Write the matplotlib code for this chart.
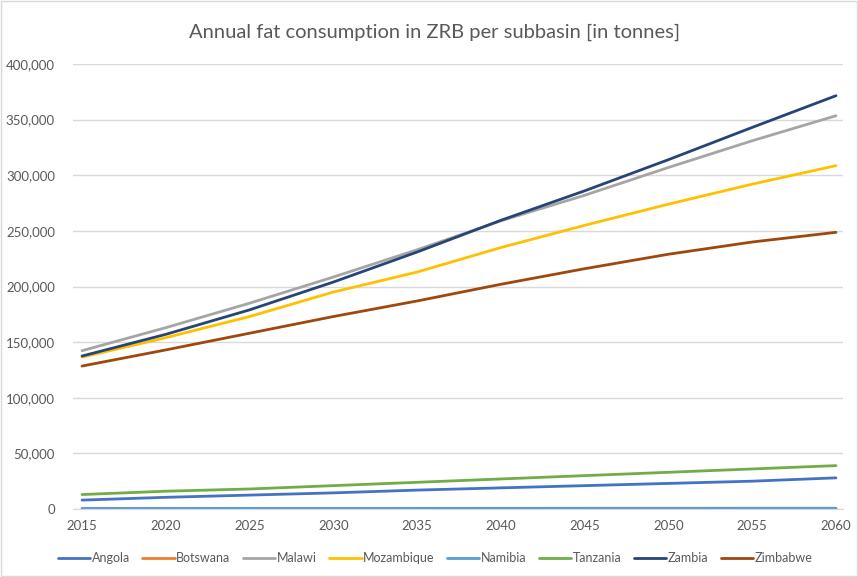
import matplotlib
matplotlib.use("Agg")
import matplotlib.pyplot as plt
from matplotlib.ticker import FuncFormatter, MultipleLocator
from matplotlib.patches import Rectangle

years = [2015, 2020, 2025, 2030, 2035, 2040, 2045, 2050, 2055, 2060]

angola     = [8000, 10500, 12500, 14500, 17000, 19000, 21000, 23000, 25000, 28000]
botswana   = [200, 220, 240, 260, 280, 300, 320, 340, 360, 380]
malawi     = [142300, 163000, 185000, 208500, 233000, 259000, 282000, 307000, 331000, 353500]
mozambique = [136500, 154000, 173000, 195000, 213000, 235000, 255000, 274000, 292000, 308600]
namibia    = [500, 520, 540, 560, 580, 600, 620, 640, 660, 680]
tanzania   = [13000, 16000, 18000, 21000, 24000, 27000, 30000, 33000, 36000, 39000]
zambia     = [137500, 157000, 179000, 204000, 231000, 259500, 286000, 314000, 343000, 371500]
zimbabwe   = [128500, 143000, 158000, 173000, 187000, 202000, 216000, 229000, 240000, 248700]

series = [
    ("Angola", angola, "#4472C4"),
    ("Botswana", botswana, "#ED7D31"),
    ("Malawi", malawi, "#A5A5A5"),
    ("Mozambique", mozambique, "#FFC000"),
    ("Namibia", namibia, "#5B9BD5"),
    ("Tanzania", tanzania, "#70AD47"),
    ("Zambia", zambia, "#264478"),
    ("Zimbabwe", zimbabwe, "#9E480E"),
]

plt.rcParams["font.family"] = ["Lato", "DejaVu Sans"]
text_col = "#595959"

fig = plt.figure(figsize=(8.58, 5.77), dpi=100)
ax = fig.add_axes([73 / 858, 68 / 577, 770 / 858, 445 / 577])

for name, vals, col in series:
    ax.plot(years, vals, color=col, lw=2.0, label=name, solid_capstyle="round")

ax.set_xlim(2014.46, 2060.42)
ax.set_ylim(0, 400000)
ax.yaxis.set_major_locator(MultipleLocator(50000))
ax.xaxis.set_major_locator(MultipleLocator(5))
ax.yaxis.set_major_formatter(FuncFormatter(lambda v, p: f"{int(v):,}"))
ax.grid(axis="y", color="#D9D9D9", lw=1.0)
ax.set_axisbelow(True)
for s in ["top", "right", "left"]:
    ax.spines[s].set_visible(False)
ax.spines["bottom"].set_color("#D9D9D9")
ax.tick_params(length=0, labelsize=9.5, colors=text_col)
ax.tick_params(axis="y", pad=13)
ax.tick_params(axis="x", pad=8)

fig.text(0.507, 0.944, "Annual fat consumption in ZRB per subbasin [in tonnes]",
         ha="center", va="center", fontsize=14.5, color=text_col)

fig.legend(loc="center", bbox_to_anchor=(0.507, 0.033), ncol=8, frameon=False,
           fontsize=9, handlelength=2.6, handletextpad=0.1, columnspacing=1.0,
           labelcolor=text_col)

fig.patches.append(Rectangle((0.001, 0.001), 0.998, 0.998, transform=fig.transFigure,
                             fill=False, edgecolor="#D9D9D9", lw=1.0))

fig.savefig("out.png", dpi=100)
